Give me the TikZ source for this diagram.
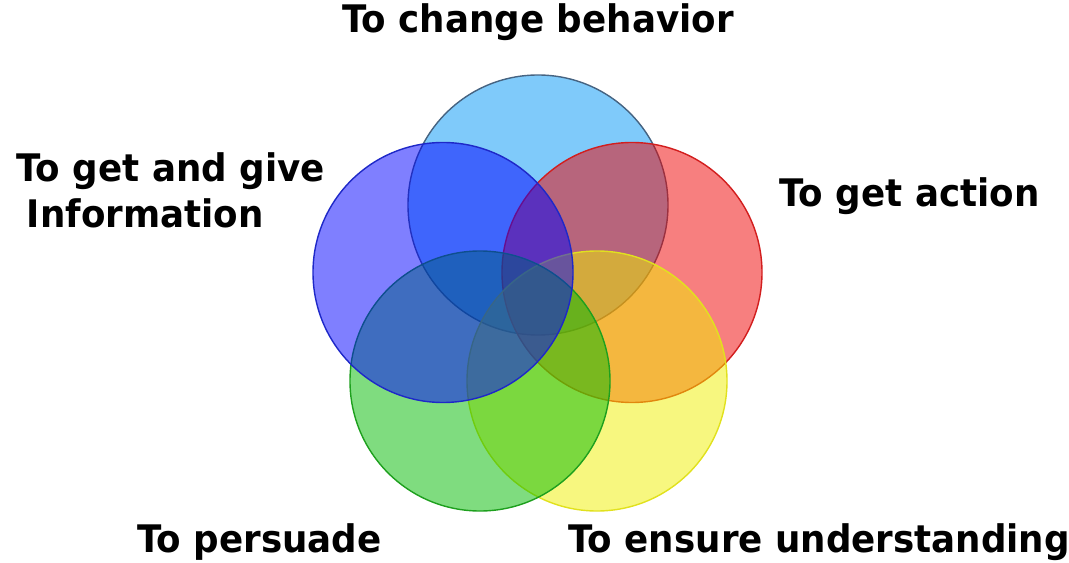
\documentclass[tikz,border=0pt]{standalone}
\usepackage{fontspec}
\setmainfont{DejaVu Sans}[FakeStretch=0.94]
\definecolor{skyfill}{RGB}{0,150,245}
\definecolor{skyline}{RGB}{70,100,130}
\definecolor{bluefill}{RGB}{0,0,255}
\definecolor{blueline}{RGB}{30,40,200}
\definecolor{redfill}{RGB}{240,0,0}
\definecolor{redline}{RGB}{210,30,30}
\definecolor{greenfill}{RGB}{0,185,0}
\definecolor{greenline}{RGB}{30,160,30}
\definecolor{yellowfill}{RGB}{240,240,0}
\definecolor{yellowline}{RGB}{225,225,30}
\begin{document}
\begin{tikzpicture}[scale=1, venn/.style={circle,minimum size=6.5cm,inner sep=0pt,line width=1pt,fill opacity=0.5}, txt/.style={font=\fontsize{27}{32}\selectfont\bfseries,inner sep=0pt}]
	\useasboundingbox (0,0) rectangle (26.725,14.05);
	% circles, back to front
	\node[venn, draw=skyline, fill=skyfill] (sky) at (13.45,8.925) {};
	\node[venn, draw=redline, fill=redfill] (act) at (15.8,7.2375) {};
	\node[venn, draw=yellowline, fill=yellowfill] (und) at (14.925,4.525) {};
	\node[venn, draw=greenline, fill=greenfill] (per) at (12,4.525) {};
	\node[venn, draw=blueline, fill=bluefill] (inf) at (11.075,7.2375) {};

	% labels
	\node[txt, anchor=base] (behav) at (13.45,13.225) {To change behavior};
	\node[txt, anchor=base west] (action) at (19.475,8.875) {To get action};
	\node[txt, anchor=base west, align=left] (info) at (0.4,8.35) {To get and give\\[1pt]\hspace{0.28em}Information};
	\node[txt, anchor=base west] (pers) at (3.425,0.25) {To persuade};
	\node[txt, anchor=base west] (ensure) at (14.2,0.25) {To ensure understanding};
\end{tikzpicture}
\end{document}
